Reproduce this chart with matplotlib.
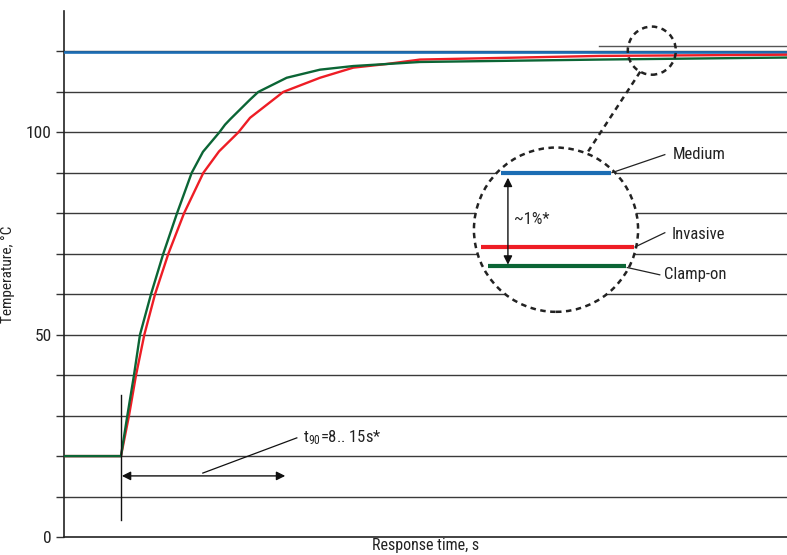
import matplotlib
matplotlib.use("Agg")
import matplotlib.pyplot as plt
from matplotlib.patches import Ellipse
from matplotlib import font_manager as fm

# ---------------- data ----------------
t_green = [0, 7.88, 8.76, 9.68, 10.51, 12.03, 13.73, 15.63, 17.66, 19.22, 21.48, 22.27, 22.96,
           25.73, 26.87, 30.80, 35.41, 40.01, 44.63, 49.24, 74.14, 100]
v_green = [20, 20, 30, 40, 50, 60, 70, 80, 90, 95.2, 100, 101.9, 103.2,
           108.1, 110, 113.5, 115.5, 116.4, 116.9, 117.4, 118.0, 118.5]

t_red = [0, 7.88, 8.99, 9.96, 11.11, 12.59, 14.43, 16.60, 19.27, 21.44, 24.11, 25.73,
         30.33, 35.41, 40.01, 44.63, 49.24, 74.14, 100]
v_red = [20, 20, 30, 40, 50, 60, 70, 80, 90, 95.3, 100, 103.6,
         110, 113.5, 116.0, 116.9, 118.0, 118.9, 119.2]

t_blue = [0, 100]
v_blue = [119.8, 119.8]

y_ticks = [0, 10, 20, 30, 40, 50, 60, 70, 80, 90, 100, 110, 120]
y_ticklabels = ["0", "", "", "", "", "50", "", "", "", "", "100", "", ""]

legend_labels = ["Medium", "Invasive", "Clamp-on"]
t90_text = r"t$_{90}$=8.. 15s*"
spread_text = "~1%*"
xlabel = "Response time, s"
ylabel = "Temperature, °C"

# ---------------- style ----------------
avail = {f.name for f in fm.fontManager.ttflist}
fam = None
for cand in ["Liberation Sans Narrow", "Roboto Condensed", "Open Sans Condensed", "DejaVu Sans Condensed", "Liberation Sans"]:
    if cand in avail:
        fam = cand
        break
if fam is None:
    fam = "DejaVu Sans"
plt.rcParams["font.family"] = [fam, "DejaVu Sans"]
plt.rcParams["mathtext.fontset"] = "custom"
plt.rcParams["mathtext.rm"] = fam
plt.rcParams["mathtext.it"] = fam
plt.rcParams["mathtext.bf"] = fam
plt.rcParams["mathtext.default"] = "regular"

BLUE = "#1c6db4"
RED = "#ee1d25"
GREEN = "#0b6535"
GRID = "#3a3a3a"
TXT = "#222222"

fig = plt.figure(figsize=(7.87, 5.55), dpi=100)
ax = fig.add_axes([64 / 787, 18 / 555, 1 - 64 / 787, (537 - 11) / 555])
ax.set_xlim(0, 100)
ax.set_ylim(0, 130)

for s in ["top", "right"]:
    ax.spines[s].set_visible(False)
ax.spines["left"].set_color("#222222")
ax.spines["bottom"].set_color("#222222")
ax.spines["left"].set_linewidth(1.2)
ax.spines["bottom"].set_linewidth(1.2)

ax.set_yticks(y_ticks)
ax.set_yticklabels(y_ticklabels, fontsize=12.5, color=TXT)
ax.tick_params(axis="y", length=6, width=1, color="#333333", pad=3)
ax.set_xticks([])
for y in y_ticks[1:]:
    ax.axhline(y, color=GRID, lw=1.0, zorder=1)

ax.set_xlabel(xlabel, fontsize=11.5, color=TXT, labelpad=1)
ax.set_ylabel(ylabel, fontsize=11, color=TXT, labelpad=8)

# main curves
ax.plot(t_blue, v_blue, color=BLUE, lw=1.9, zorder=3)
ax.plot(t_red, v_red, color=RED, lw=1.7, zorder=3, solid_joinstyle="round")
ax.plot(t_green, v_green, color=GREEN, lw=1.7, zorder=4, solid_joinstyle="round")

# short grey line at top right
ax.plot([74.0, 100], [121.4, 121.4], color="#555555", lw=1.0, zorder=2)

# small dashed circle + connector
ax.add_patch(Ellipse((81.3, 120.2), 6.64, 11.9, fill=False, ec="#222222", lw=1.8,
                     ls=(0, (2.2, 1.8)), zorder=6))
ax.plot([79.7, 72.5], [115.0, 95.3], color="#222222", lw=1.8, ls=(0, (2.2, 1.8)), zorder=6)

# big dashed circle (white filled)
ax.add_patch(Ellipse((68.05, 75.95), 22.7, 40.6, fc="white", ec="#222222", lw=1.8,
                     ls=(0, (2.2, 1.8)), zorder=5))

# inset lines
ax.plot([60.4, 75.7], [89.9, 89.9], color=BLUE, lw=3.0, zorder=6, solid_capstyle="butt")
ax.plot([57.7, 78.8], [71.6, 71.6], color=RED, lw=3.0, zorder=6, solid_capstyle="butt")
ax.plot([58.6, 77.7], [66.9, 66.9], color=GREEN, lw=3.0, zorder=6, solid_capstyle="butt")

# spread arrow
ax.annotate("", xy=(61.4, 67.3), xytext=(61.4, 88.8),
            arrowprops=dict(arrowstyle="<|-|>", color="#111111", lw=1.0,
                            mutation_scale=13, shrinkA=0, shrinkB=0), zorder=7)
ax.text(62.2, 78.4, spread_text, fontsize=12, ha="left", va="center", color=TXT, zorder=7)

# labels with leader lines
ax.plot([75.8, 83.1], [90.05, 94.5], color="#222222", lw=0.9, zorder=7)
ax.text(84.2, 94.5, legend_labels[0], fontsize=12, ha="left", va="center", color=TXT)
ax.plot([79.0, 83.1], [71.7, 75.2], color="#222222", lw=0.9, zorder=7)
ax.text(84.1, 74.7, legend_labels[1], fontsize=12, ha="left", va="center", color=TXT)
ax.plot([77.9, 82.4], [66.6, 64.8], color="#222222", lw=0.9, zorder=7)
ax.text(83.0, 64.8, legend_labels[2], fontsize=12, ha="left", va="center", color=TXT)

# t90 annotation
ax.plot([7.9, 7.9], [4.2, 35.1], color="#111111", lw=1.0, zorder=5)
ax.annotate("", xy=(8.0, 15.1), xytext=(30.6, 15.1),
            arrowprops=dict(arrowstyle="<|-|>", color="#111111", lw=1.0,
                            mutation_scale=13, shrinkA=0, shrinkB=0), zorder=7)
ax.plot([19.2, 32.2], [15.8, 24.5], color="#111111", lw=0.9, zorder=7)
ax.text(33.1, 24.5, t90_text, fontsize=12, ha="left", va="center", color=TXT)

fig.savefig("out.png", dpi=100)
